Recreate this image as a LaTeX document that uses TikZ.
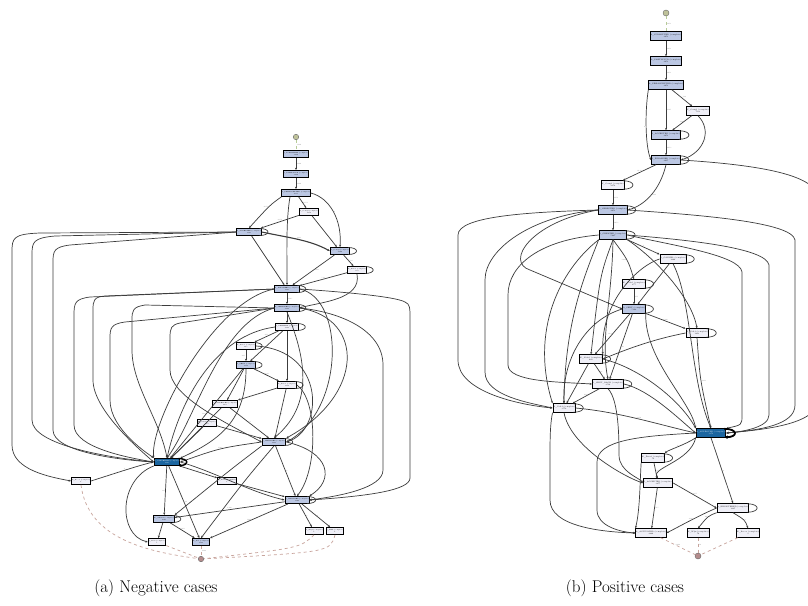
\documentclass[tikz,border=0pt]{standalone}
\usetikzlibrary{arrows.meta}
\definecolor{nb}{HTML}{BBC7E3}
\definecolor{nw}{HTML}{EFEFF7}
\definecolor{nd}{HTML}{1C66A0}
\definecolor{ed}{HTML}{3C3C3C}
\definecolor{stf}{HTML}{BFC29A}
\definecolor{enf}{HTML}{B48C8C}
\definecolor{stl}{HTML}{B8CC98}
\definecolor{enl}{HTML}{C8A49C}
\newcommand\myloop[3][0.7pt]{\draw[draw=ed,line width=#1] ([xshift=-2pt,yshift=-0.5pt]#2.north east) .. controls +(#3,0) and +(#3,0) .. ([xshift=-2pt,yshift=0.5pt]#2.south east);}
\begin{document}
\begin{tikzpicture}[x=1pt,y=-1pt,
 act/.style={draw=black,line width=0.9pt,rectangle,inner sep=0pt,minimum width=17pt,minimum height=7pt,align=center,font=\fontsize{1.5}{1.8}\selectfont},
 bact/.style={act,minimum width=22pt,minimum height=8.5pt,font=\fontsize{1.8}{2.1}\selectfont},
 nbl/.style={fill=nb}, nwh/.style={fill=nw}, ndk/.style={fill=nd,text=white},
 e/.style={draw=ed,line width=0.7pt,-{Stealth[length=2.4pt,width=2pt]}},
 se/.style={draw=stl,line width=0.7pt,dashed},
 ee/.style={draw=enl,line width=0.7pt,dashed},
 lbl/.style={font=\fontsize{1.6}{1.8}\selectfont,text=black!55,inner sep=0.5pt},
 stn/.style={circle,draw=black!60,fill=stf,minimum size=5.5pt,inner sep=0pt},
 enn/.style={circle,draw=black!60,fill=enf,minimum size=5.5pt,inner sep=0pt}]
\useasboundingbox (0,0) rectangle (808,605);
\fill[white] (0,0) rectangle (808,605);
% ---------------- (a) nodes
\node[stn] (a0) at (296,137) {};
\node[act,nbl] (a1) at (296,154) {A\_SUBMITTED (complete)\\3429};
\node[act,nbl] (a2) at (296,174) {A\_PARTLYSUB (complete)\\3429};
\node[act,nbl] (a3) at (296,193) {A\_PREACCEPTED (complete)\\2053};
\node[act,nwh] (a4) at (309,212) {W\_Compl (complete)\\1254};
\node[act,nbl] (a5) at (249,232) {A\_ACCEPTED (complete)\\1845};
\node[act,nbl] (a6) at (340,251) {W\_Compl (complete)\\2266};
\node[act,nwh] (a7) at (357,270) {W\_Nabel (complete)\\530};
\node[act,nbl] (a8) at (287,289) {A\_FINALIZED (complete)\\1845};
\node[act,nbl] (a9) at (287,308) {O\_SELECTED (complete)\\2107};
\node[act,nwh] (a10) at (287,327) {O\_CREATED (complete)\\2107};
\node[act,nwh] (a11) at (246,346) {W\_Nabel (complete)\\615};
\node[act,nbl] (a12) at (246,365) {O\_SENT (complete)\\1710};
\node[act,nwh] (a13) at (287,385) {W\_Nabel (complete)\\1212};
\node[act,nwh] (a14) at (225,404) {O\_CANCELLED (complete)\\462};
\node[act,nwh] (a15) at (207,423) {W\_Valid (complete)\\310};
\node[act,nbl] (a16) at (274,442) {A\_DECLINED (complete)\\1421};
\node[act,ndk] (a17) at (167,462) {A\_CANCELLED (complete)\\1845};
\node[act,nwh] (a18) at (227,481) {W\_Fraud (complete)\\8};
\node[act,nwh] (a19) at (81,481) {W\_Beoor (complete)\\4};
\node[act,nbl] (a20) at (297,500) {O\_DECLINED (complete)\\1190};
\node[act,nbl] (a21) at (164,519) {W\_Afhand (complete)\\1063};
\node[act,nwh] (a22) at (314,531) {W\_Wijz (complete)\\2};
\node[act,nwh] (a23) at (335,531) {A\_REG (complete)\\4};
\node[act,nwh] (a24) at (157,542) {O\_ACC (complete)\\5};
\node[act,nbl] (a25) at (201,542) {W\_Bel (complete)\\1202};
\node[enn] (a26) at (201,559) {};
% ---------------- (a) edges
\draw[se] (a0) -- node[lbl,right]{3429} (a1);
\draw[e] (a1) -- node[lbl,right]{3429} (a2);
\draw[e] (a2) -- node[lbl,right]{3429} (a3);
\draw[e] (a3) -- node[lbl,right]{1254} (a4);
\draw[e] (a3.south west) .. controls (270,205) .. node[lbl,left]{1053} (a5.north);
\draw[e] ([xshift=-6pt]a3.south) .. controls (286,220) and (287,250) .. (a8.north);
\draw[e] (a3.east) .. controls (330,198) and (342,220) .. node[lbl,right]{2} (a6.north);
\draw[e] (a4) -- node[lbl,above]{1254} (a5);
\draw[e] (a4) -- (a6);
\draw[e,line width=1.1pt] (a5.east) .. controls (290,238) and (310,240) .. node[lbl,above]{1283} (a6.west);
\draw[e] (a5) -- node[lbl,right]{2} (a8);
\draw[e] (a6) -- node[lbl,right]{1462} (a8);
\draw[e] (a6) -- node[lbl,right]{530} (a7);
\draw[e] (a7) -- node[lbl,above]{530} (a8);
\draw[e] (a7.south) .. controls (362,300) and (320,302) .. (a9.east);
\draw[e,line width=1pt] (a8) -- node[lbl,right]{1845} (a9);
\draw[e] (a9) -- (a10);
\draw[e] (a10) -- node[lbl,above]{615} (a11);
\draw[e] (a10) -- (a12);
\draw[e] (a11) -- node[lbl,left]{615} (a12);
\draw[e] (a10) -- node[lbl,right]{4} (a13);
\draw[e] (a12) -- node[lbl,above]{1212} (a13);
\draw[e] (a13) -- (a14);
\draw[e] (a12) -- (a14);
\draw[e] (a13) -- node[lbl,right]{1} (a16);
\draw[e] (a14) -- node[lbl,above]{33} (a16);
\draw[e] (a15) -- node[lbl,above]{2} (a16);
\draw[e] (a12) -- node[lbl,left]{429} (a17);
\draw[e] (a14) -- (a17);
\draw[e] (a15) -- (a17);
\draw[e] (a16.west) .. controls (220,448) .. node[lbl,above]{1562} (a17.east);
\draw[e] (a16) -- node[lbl,right]{4} (a20);
\draw[e] (a17) -- node[lbl,above]{5} (a18);
\draw[e] (a18) -- (a20);
\draw[e] (a17) -- node[lbl,left]{46} (a21);
\draw[e] (a17) -- node[lbl,right]{11} (a25);
\draw[e] (a17.east) .. controls (215,472) and (250,492) .. node[lbl,above]{1047} (a20.west);
\draw[e] (a20) -- node[lbl,above]{1190} (a21);
\draw[e] (a20) -- node[lbl,above]{1167} (a25);
\draw[e] (a20) -- node[lbl,right]{2} (a22);
\draw[e] (a20) -- node[lbl,right]{4} (a23);
\draw[e] (a21) -- (a24);
\draw[e] (a21) -- node[lbl,above]{1063} (a25);
\draw[e] (a17.south west) .. controls (118,480) and (118,535) .. (a24.west);
\draw[e] (a19.east) .. controls (110,475) and (140,465) .. node[lbl,above]{4} (a17.west);
\draw[ee] (a19.south) .. controls (88,540) and (150,552) .. (a26);
\draw[ee] (a24) -- (a26);
\draw[ee] (a25) -- node[lbl,right]{1202} (a26);
\draw[ee] (a22.south) .. controls (300,548) .. (a26);
\draw[ee] (a23.south) .. controls (330,552) .. (a26);
% outer arcs left
\draw[e] (a5.west) -- (40,233) .. controls (13,234) and (12,238) .. (12,252) -- (12,445) .. controls (12,470) and (50,477) .. (a19.west);
\draw[e] (a5.west) -- (55,236) .. controls (33,238) and (32,242) .. (32,255) -- (32,420) .. controls (32,445) and (110,458) .. (a17.west);
\draw[e] (a5.west) -- (70,245) .. controls (54,247) and (53,251) .. (53,262) -- (53,430) .. controls (53,452) and (120,460) .. (a17.west);
\draw[e] (a8.west) -- (90,297) .. controls (75,299) and (74,303) .. (74,315) -- (74,425) .. controls (74,448) and (130,458) .. (a17.west);
\draw[e] (a8.west) -- (105,296) .. controls (94,297) and (93,300) .. (93,310) -- (93,380) .. controls (93,410) and (140,450) .. (a17.west);
\draw[e] (a9.west) -- (125,322) .. controls (111,324) and (110,328) .. (110,338) -- (110,400) .. controls (110,430) and (150,455) .. (a17.north west);
\draw[e] (a9.west) -- (145,305) .. controls (133,307) and (132,310) .. (132,320) -- (132,350) .. controls (132,385) and (160,420) .. (a17.north);
\draw[e] (a9.west) -- (180,323) .. controls (171,325) and (170,328) .. (170,338) -- (170,370) .. controls (170,395) and (220,420) .. (a16.west);
% inner crossing curves (a)
\draw[e] (a8.east) .. controls (330,291) and (395,296) .. (405,302) .. controls (410,304) and (410,308) .. (410,318) -- (410,478) .. controls (410,490) and (370,496) .. (a20.east);
\draw[e] (a9.east) .. controls (340,312) and (383,330) .. (383,365) -- (383,470) .. controls (383,488) and (340,496) .. (a20.east);
\draw[e] (a9.east) .. controls (365,318) and (365,395) .. (a16.north east);
\draw[e] (a8.east) .. controls (345,298) and (345,410) .. (a16.east);
\draw[e] (a9.west) .. controls (220,322) and (195,420) .. (a17.north);
\draw[e] (a10.west) .. controls (215,335) and (180,400) .. (a17.north);
\draw[e] (a8.west) .. controls (215,300) and (150,420) .. (a17.north west);
\draw[e] (a9.south) .. controls (300,345) and (320,400) .. (a16.north);
\draw[e] (a11.east) .. controls (325,350) and (325,430) .. (a16.east);
\draw[e] (a13.east) .. controls (318,400) and (318,470) .. (a20.north);
\draw[e] (a16.east) .. controls (330,452) and (335,480) .. (a20.north east);
\draw[e] (a16.south) .. controls (245,480) .. (a25.north);
\draw[e] (a16.south west) .. controls (230,470) .. (a21.north east);
\draw[e] (a12.south) .. controls (246,420) and (220,440) .. (a17.north east);
% self loops (a)
\myloop{a5}{11} \myloop{a6}{11} \myloop{a7}{11} \myloop{a8}{11} \myloop{a9}{11}
\myloop{a10}{11} \myloop{a11}{11} \myloop{a12}{11} \myloop{a13}{11} \myloop{a16}{11}
\myloop{a20}{11} \myloop{a21}{11}
\draw[draw=black,line width=1.4pt,-{Stealth[length=3pt,width=3pt]}] ([xshift=-2pt,yshift=-0.5pt]a17.north east) .. controls +(11,0) and +(11,0) .. ([xshift=-2pt,yshift=0.5pt]a17.south east);
% ---------------- (b) nodes
\node[stn,minimum size=6pt] (b0) at (666,13) {};
\node[bact,nbl] (b1) at (666,36) {A\_SUBMITTED (complete)\\3653};
\node[bact,nbl] (b2) at (666,61) {A\_PARTLYSUB (complete)\\3653};
\node[bact,nbl] (b3) at (666,85) {A\_PREACCEPTED (complete)\\3653};
\node[bact,nwh] (b4) at (698,111) {W\_Compl (complete)\\782};
\node[bact,nbl] (b5) at (666,135) {A\_ACCEPTED (complete)\\3653};
\node[bact,nbl] (b6) at (666,160) {A\_FINALIZED (complete)\\3617};
\node[bact,nwh] (b7) at (613,185) {W\_Compl (complete)\\2154};
\node[bact,nbl] (b8) at (613,210) {O\_SELECTED (complete)\\3653};
\node[bact,nbl] (b9) at (613,235) {O\_CREATED (complete)\\5427};
\node[bact,nwh] (b10) at (634,284) {W\_Nabel (complete)\\877};
\node[bact,nwh] (b11) at (673,259) {O\_CANCEL (complete)\\1066};
\node[bact,nbl] (b12) at (634,309) {O\_SENT (complete)\\5382};
\node[bact,nwh] (b13) at (697,333) {W\_Valid (complete)\\1213};
\node[bact,nwh] (b14) at (591,359) {W\_Nabel (complete)\\680};
\node[bact,nwh] (b15) at (608,384) {O\_SENT\_BACK (complete)\\2516};
\node[bact,nwh] (b16) at (564,408) {W\_Valid (complete)\\3550};
\node[bact,ndk] (b17) at (711,433) {A\_APPROVED (complete)\\3378};
\node[bact,nwh] (b18) at (653,458) {W\_Fraud (complete)\\74};
\node[bact,nwh] (b19) at (658,483) {O\_ACCEPTED (complete)\\3277};
\node[bact,nwh] (b20) at (651,533) {A\_ACTIVATED (complete)\\2246};
\node[bact,nwh] (b21) at (733,508) {A\_REGISTERED (complete)\\1007};
\node[bact,nwh] (b22) at (698,533) {W\_Wijz (complete)\\56};
\node[bact,nwh] (b23) at (748,533) {W\_Beoor (complete)\\3};
\node[enn,minimum size=6pt] (b26) at (698,556) {};
% ---------------- (b) edges
\draw[se] (b0) -- node[lbl,right]{3653} (b1);
\draw[e] (b1) -- node[lbl,right]{3653} (b2);
\draw[e] (b2) -- node[lbl,right]{3653} (b3);
\draw[e] (b3) -- node[lbl,above right]{782} (b4);
\draw[e] (b3) -- node[lbl,right]{1105} (b5);
\draw[e] (b4) -- node[lbl,above]{1107} (b5);
\draw[e] (b3.south west) .. controls (645,110) and (645,145) .. node[lbl,left]{6} (b6.west);
\draw[e] (b4.south) .. controls (712,130) and (705,152) .. node[lbl,right]{6} (b6.east);
\draw[e,line width=1pt] (b5) -- node[lbl,right]{2453} (b6);
\draw[e] (b6) -- node[lbl,above]{2130} (b7);
\draw[e] (b6.south) .. controls (660,190) and (645,205) .. node[lbl,right]{1181} (b8.east);
\draw[e] (b7) -- node[lbl,right]{2158} (b8);
\draw[e,line width=1pt] (b8) -- node[lbl,right]{3653} (b9);
\draw[e] (b6.east) .. controls (760,165) and (820,175) .. (818,200) -- (818,400) .. controls (818,425) and (760,430) .. (b17.east);
\draw[e] (b8.east) .. controls (700,215) and (792,222) .. (795,240) -- (795,405) .. controls (795,425) and (760,430) .. (b17.east);
\draw[e] (b9.east) .. controls (690,240) and (766,248) .. (769,265) -- (769,415) .. controls (769,428) and (740,432) .. (b17.east);
\draw[e] (b9.east) .. controls (670,245) and (740,255) .. (742,272) -- (742,415) .. controls (742,425) .. (b17.north east);
\draw[e] (b8.west) .. controls (530,212) and (458,216) .. (458,235) -- (458,360) .. controls (458,392) and (520,405) .. (b16.west);
\draw[e] (b8.west) .. controls (530,216) and (485,250) .. (485,280) -- (485,372) .. controls (485,396) and (530,403) .. (b16.west);
\draw[e] (b9.west) .. controls (540,240) and (508,265) .. (508,295) -- (508,365) .. controls (508,382) and (560,382) .. (b15.west);
\draw[e] (b8.west) .. controls (530,222) and (505,262) .. (530,270) -- (b12.west);
\draw[e] (b9.south) .. controls (628,260) .. node[lbl,left]{1106} (b10.north);
\draw[e] (b9.south east) -- node[lbl,above]{1} (b11.north west);
\draw[e] (b9.south) .. controls (600,275) .. (b14.north);
\draw[e] (b9.south) .. controls (612,300) and (600,340) .. (b15.north);
\draw[e] (b9.south west) .. controls (585,275) and (565,320) .. (b16.north);
\draw[e] (b9.south west) .. controls (560,270) and (530,330) .. (b16.north west);
\draw[e] (b9.south east) .. controls (660,262) and (692,300) .. (b13.north);
\draw[e] (b10) -- node[lbl,right]{877} (b12);
\draw[e] (b11) -- node[lbl,above]{27} (b12);
\draw[e] (b12) -- node[lbl,above]{1066} (b13);
\draw[e] (b12) -- node[lbl,left]{241} (b14);
\draw[e] (b12) -- node[lbl,right]{93} (b15);
\draw[e] (b12.south east) .. controls (645,360) and (690,400) .. (b17.north west);
\draw[e] (b12.west) .. controls (585,320) and (562,360) .. (b16.north);
\draw[e] (b13.south) .. controls (700,380) .. node[lbl,right]{1213} (b17.north);
\draw[e] (b11.south) .. controls (692,300) and (690,380) .. (b17.north);
\draw[e] (b11.west) .. controls (640,265) and (600,300) .. (b14.north east);
\draw[e] (b13.west) .. controls (650,340) and (625,350) .. (b14.east);
\draw[e] (b14) -- node[lbl,right]{88} (b15);
\draw[e] (b14) -- node[lbl,left]{365} (b16);
\draw[e] (b15) -- node[lbl,above]{1031} (b16);
\draw[e] (b15.east) .. controls (650,390) and (680,420) .. (b17.west);
\draw[e] (b16.east) .. controls (620,412) and (660,425) .. node[lbl,above]{2376} (b17.west);
\draw[e] (b14.east) .. controls (640,368) and (680,400) .. (b17.north west);
\draw[e] (b16.south) .. controls (570,445) and (620,475) .. (b19.west);
\draw[e] (b16.south west) .. controls (550,425) and (550,440) .. (550,460) -- (550,500) .. controls (550,526) and (600,532) .. (b20.west);
\draw[e] (b15.south) .. controls (619,400) and (619,440) .. (619,455) .. controls (619,472) and (640,478) .. (b19.west);
\draw[e] (b17.west) .. controls (640,436) and (597,440) .. (597,462) -- (597,510) .. controls (597,526) and (620,532) .. (b20.west);
\draw[e] (b17.south west) .. controls (685,445) and (668,450) .. node[lbl,above]{1} (b18.north east);
\draw[e] (b17.south) -- node[lbl,right]{6} (b21.north);
\draw[e] (b18) -- node[lbl,right]{57} (b19);
\draw[e] (b19) -- node[lbl,right]{315} (b20);
\draw[e] (b18.south west) .. controls (640,480) and (640,510) .. (b20.north west);
\draw[e] (b19.east) -- node[lbl,above]{1055} (b21.west);
\draw[e] (b21.west) .. controls (700,515) and (682,525) .. node[lbl,above]{2325} (b20.east);
\draw[e] (b21.south west) .. controls (708,516) .. node[lbl,left]{46} (b22.north);
\draw[e] (b21.south) .. controls (745,520) .. node[lbl,right]{3} (b23.north);
\draw[e] (b17.south west) .. controls (690,462) and (650,468) .. (b19.north);
\draw[ee] (b20) -- node[lbl,above]{2246} (b26);
\draw[ee] (b22) -- node[lbl,right]{56} (b26);
\draw[ee] (b23) -- node[lbl,right]{3} (b26);
% self loops (b)
\myloop{b5}{13} \myloop{b6}{13} \myloop{b7}{13} \myloop{b8}{13} \myloop{b9}{13}
\myloop{b10}{13} \myloop{b11}{13} \myloop{b12}{13} \myloop{b13}{13} \myloop{b14}{13}
\myloop{b15}{13} \myloop{b16}{13} \myloop{b18}{13} \myloop{b21}{13}
\draw[draw=black,line width=1.8pt,-{Stealth[length=3.5pt,width=3.5pt]}] ([xshift=-2pt,yshift=-0.5pt]b17.north east) .. controls +(14,0) and +(14,0) .. ([xshift=-2pt,yshift=0.5pt]b17.south east);
% captions
\node[font=\fontsize{17}{20}\selectfont] (capa) at (156,588) {(a) Negative cases};
\node[font=\fontsize{17}{20}\selectfont] (capb) at (625,588) {(b) Positive cases};
\end{tikzpicture}
\end{document}
